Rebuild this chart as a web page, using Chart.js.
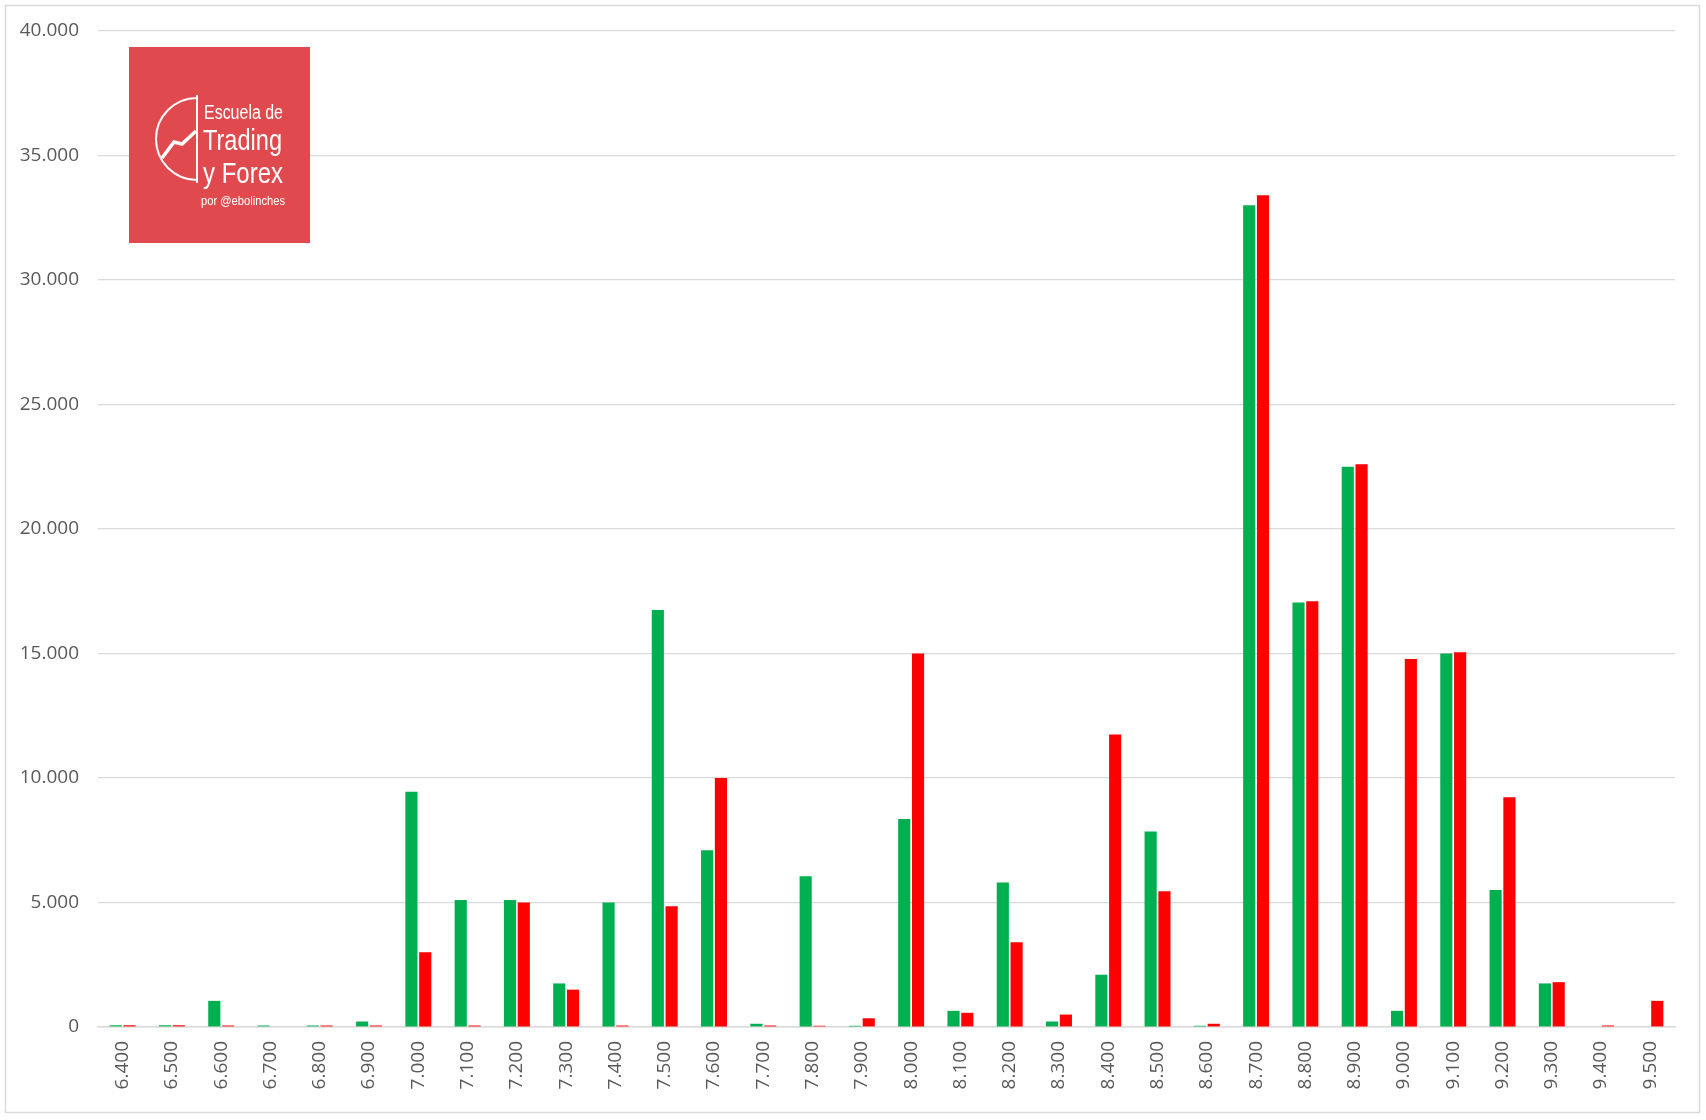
<!DOCTYPE html>
<html lang="es">
<head>
    <meta charset="UTF-8">
    <title>Volumen por nivel</title>
    <script src="https://cdn.jsdelivr.net/npm/chart.js"></script>
    <style>
        html, body { margin: 0; padding: 0; background: #fff; }
        .chart-container { position: relative; width: 1706px; height: 1120px; }
    </style>
</head>
<body>
    <div class="chart-container">
        <canvas id="levelsChart"></canvas>
    </div>

    <script>
        // price levels on the x axis
        const categories = ['6.400', '6.500', '6.600', '6.700', '6.800', '6.900', '7.000', '7.100',
            '7.200', '7.300', '7.400', '7.500', '7.600', '7.700', '7.800', '7.900', '8.000', '8.100',
            '8.200', '8.300', '8.400', '8.500', '8.600', '8.700', '8.800', '8.900', '9.000', '9.100',
            '9.200', '9.300', '9.400', '9.500'];

        // green series
        const greenValues = [70, 70, 1050, 60, 60, 220, 9450, 5100,
            5100, 1750, 5000, 16750, 7100, 130, 6050, 50, 8350, 650,
            5800, 220, 2100, 7850, 50, 33000, 17050, 22500, 650, 15000,
            5500, 1750, 0, 0];

        // red series
        const redValues = [70, 70, 60, 0, 60, 60, 3000, 60,
            5000, 1500, 60, 4850, 10000, 60, 50, 350, 15000, 570,
            3400, 500, 11750, 5450, 130, 33400, 17100, 22600, 14780, 15050,
            9230, 1800, 60, 1050];

        const yTicks = [0, 5000, 10000, 15000, 20000, 25000, 30000, 35000, 40000];

        const fmt = v => String(v).replace(/\B(?=(\d{3})+(?!\d))/g, '.');

        // squeezed text, so the logo lines keep their width
        function narrowText(c, text, x, y, size, width) {
            c.font = size + 'px "Liberation Sans", sans-serif';
            const w = c.measureText(text).width;
            c.save();
            c.translate(x, y);
            c.scale(width / w, 1);
            c.fillText(text, 0, 0);
            c.restore();
        }

        // white page, outer frame and the logo
        const frame = {
            id: 'frame',
            beforeDraw(chart) {
                const c = chart.ctx;
                c.save();
                c.fillStyle = '#fff';
                c.fillRect(0, 0, chart.width, chart.height);
                c.strokeStyle = '#D9D9D9';
                c.lineWidth = 1.5;
                c.strokeRect(5.5, 5.5, 1694, 1107);
                c.restore();
            },
            afterDraw(chart) {
                const c = chart.ctx;
                c.save();
                c.fillStyle = '#E04A4E';
                c.fillRect(129, 47, 181, 196);

                c.strokeStyle = '#fff';
                c.lineWidth = 2;
                c.beginPath();
                c.moveTo(197, 95);
                c.lineTo(197, 183);
                c.stroke();
                c.beginPath();
                c.arc(197, 139, 41, Math.PI / 2, Math.PI * 1.5);
                c.stroke();
                c.lineWidth = 3.5;
                c.beginPath();
                c.moveTo(162, 158);
                c.lineTo(174, 142);
                c.lineTo(182, 144);
                c.lineTo(196, 131);
                c.stroke();

                c.fillStyle = '#fff';
                narrowText(c, 'Escuela de', 204, 119, 20, 79);
                narrowText(c, 'Trading', 203, 150, 29, 79);
                narrowText(c, 'y Forex', 203, 183, 29, 80);
                narrowText(c, 'por @ebolinches', 201, 205, 13, 84);
                c.restore();
            }
        };

        const tickFont = { family: '"Open Sans", sans-serif', size: 19 };

        new Chart(document.getElementById('levelsChart').getContext('2d'), {
            type: 'bar',
            data: {
                labels: categories,
                datasets: [
                    { data: greenValues, backgroundColor: '#00B050', categoryPercentage: 0.56, barPercentage: 0.88 },
                    { data: redValues, backgroundColor: '#FF0000', categoryPercentage: 0.56, barPercentage: 0.88 }
                ]
            },
            options: {
                responsive: true,
                maintainAspectRatio: false,
                animation: false,
                layout: { padding: { top: 31, right: 31, left: 0, bottom: 0 } },
                plugins: {
                    legend: { display: false },
                    tooltip: { enabled: false }
                },
                scales: {
                    x: {
                        grid: { display: false, drawTicks: false },
                        border: { display: true, color: '#D9D9D9', width: 1.5 },
                        ticks: {
                            color: '#595959', font: tickFont,
                            minRotation: 90, maxRotation: 90, autoSkip: false, padding: 14
                        },
                        afterFit(scale) { scale.height = 93; }
                    },
                    y: {
                        min: 0, max: 40000,
                        afterBuildTicks(scale) { scale.ticks = yTicks.map(v => ({ value: v })); },
                        grid: { color: '#D9D9D9', lineWidth: 1.2, drawTicks: false },
                        border: { display: false },
                        ticks: {
                            color: '#595959', font: tickFont, padding: 19,
                            callback: v => fmt(v)
                        },
                        afterFit(scale) { scale.width = 98; }
                    }
                }
            },
            plugins: [frame]
        });
    </script>
</body>
</html>
